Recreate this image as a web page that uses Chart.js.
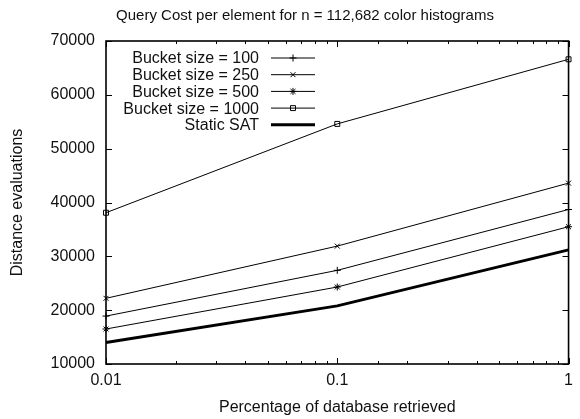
<!DOCTYPE html>
<html>
<head>
<meta charset="utf-8">
<script src="https://cdn.jsdelivr.net/npm/chart.js@4/dist/chart.umd.min.js"></script>
<style>
  html, body { margin: 0; padding: 0; background: #fff; }
  #wrap { width: 580px; height: 419px; }
</style>
</head>
<body>
<div id="wrap"><canvas id="myChart" width="580" height="419"></canvas></div>
<script>
// values
var percentRetrieved = [0.01, 0.1, 1];
var bucket100 = [18900, 27400, 38700];
var bucket250 = [22200, 31900, 43600];
var bucket500 = [16500, 24300, 35500];
var bucket1000 = [38100, 54600, 66600];
var staticSat = [14000, 20800, 31200];

var yTicks = [10000, 20000, 30000, 40000, 50000, 60000, 70000];
var xTickLabels = [0.01, 0.1, 1];

var titleText = 'Query Cost per element for n = 112,682 color histograms';

var element = document.getElementById('myChart').getContext('2d');

Chart.defaults.font.family = '"Liberation Sans", Arial, Helvetica, sans-serif';
Chart.defaults.font.size = 16;
Chart.defaults.color = '#111';

function points(ys) {
    return percentRetrieved.map(function (x, i) { return { x: x, y: ys[i] }; });
}

function isMajor(v) {
    return xTickLabels.some(function (t) { return Math.abs(t - v) < 1e-9; });
}

function series(label, ys, style, width) {
    return {
        label: label,
        data: points(ys),
        borderColor: '#000',
        backgroundColor: 'rgba(0,0,0,0)',
        borderWidth: width,
        pointStyle: style,
        pointRadius: style ? 3.5 : 0,
        pointHoverRadius: style ? 3.5 : 0,
        pointBorderWidth: 1,
        pointBorderColor: '#000',
        pointBackgroundColor: 'rgba(0,0,0,0)',
        tension: 0,
        clip: false
    };
}

// gnuplot style box with inward ticks on all four sides
var framePlugin = {
    id: 'frame',
    beforeDatasetsDraw: function (chart) {
        var ctx = chart.ctx, a = chart.chartArea;
        var xs = chart.scales.x, ys = chart.scales.y;
        ctx.save();
        ctx.strokeStyle = '#000';
        ctx.lineWidth = 1;
        ctx.beginPath();
        xs.ticks.forEach(function (t) {
            var px = Math.round(xs.getPixelForValue(t.value)) + 0.5;
            var len = isMajor(t.value) ? 6 : 3;
            ctx.moveTo(px, a.bottom); ctx.lineTo(px, a.bottom - len);
            ctx.moveTo(px, a.top); ctx.lineTo(px, a.top + len);
        });
        ys.ticks.forEach(function (t) {
            var py = Math.round(ys.getPixelForValue(t.value)) + 0.5;
            ctx.moveTo(a.left, py); ctx.lineTo(a.left + 6, py);
            ctx.moveTo(a.right, py); ctx.lineTo(a.right - 6, py);
        });
        ctx.stroke();
        ctx.lineWidth = 1.6;
        ctx.strokeRect(a.left, a.top, a.right - a.left, a.bottom - a.top);
        ctx.restore();
    }
};

// title (centred like gnuplot, over the whole page) and key inside the plot
var keyPlugin = {
    id: 'insideKey',
    afterDatasetsDraw: function (chart) {
        var ctx = chart.ctx, a = chart.chartArea;
        var textRight = a.left + 153, lineStart = a.left + 165, lineEnd = a.left + 209;
        ctx.save();
        ctx.fillStyle = '#111';
        ctx.font = '15px ' + Chart.defaults.font.family;
        ctx.textAlign = 'center';
        ctx.textBaseline = 'middle';
        ctx.fillText(titleText, 305, 16);

        ctx.font = '16px ' + Chart.defaults.font.family;
        ctx.textAlign = 'right';
        chart.data.datasets.forEach(function (ds, i) {
            var y = a.top + 17 + i * 16.7;
            ctx.fillStyle = '#111';
            ctx.fillText(ds.label, textRight, y + 1);
            ctx.strokeStyle = '#000';
            ctx.lineWidth = ds.borderWidth;
            ctx.beginPath();
            ctx.moveTo(lineStart, y);
            ctx.lineTo(lineEnd, y);
            ctx.stroke();
            if (ds.pointRadius > 0) {
                ctx.lineWidth = 1;
                ctx.fillStyle = 'rgba(0,0,0,0)';
                Chart.helpers.drawPoint(ctx, {
                    pointStyle: ds.pointStyle, rotation: 0,
                    radius: ds.pointRadius, borderWidth: 1
                }, (lineStart + lineEnd) / 2, y);
            }
        });
        ctx.restore();
    }
};

var chartData = {
    datasets: [
        series('Bucket size = 100', bucket100, 'cross', 1),
        series('Bucket size = 250', bucket250, 'crossRot', 1),
        series('Bucket size = 500', bucket500, 'star', 1),
        series('Bucket size = 1000', bucket1000, 'rect', 1),
        series('Static SAT', staticSat, false, 3)
    ]
};

var chartOptions = {
    responsive: false,
    animation: false,
    devicePixelRatio: 1,
    layout: { padding: { left: 0, right: 4, top: 41, bottom: 0 } },
    plugins: {
        legend: { display: false },
        tooltip: { enabled: false },
        title: { display: false }
    },
    scales: {
        x: {
            type: 'logarithmic',
            min: 0.01,
            max: 1,
            border: { display: false },
            grid: { display: false, drawTicks: false },
            ticks: {
                autoSkip: false,
                maxRotation: 0,
                padding: 7,
                callback: function (v) { return isMajor(v) ? String(v) : ''; }
            },
            title: {
                display: true,
                text: 'Percentage of database retrieved',
                padding: { top: 4, bottom: 2 }
            },
            afterFit: function (scale) { scale.height = 55; }
        },
        y: {
            type: 'linear',
            min: 10000,
            max: 70000,
            border: { display: false },
            grid: { display: false, drawTicks: false },
            afterBuildTicks: function (scale) {
                scale.ticks = yTicks.map(function (v) { return { value: v }; });
            },
            ticks: {
                padding: 11,
                callback: function (v) { return String(v); }
            },
            title: {
                display: true,
                text: 'Distance evaluations',
                padding: { top: 8, bottom: 0 }
            },
            afterFit: function (scale) { scale.width = 106; }
        }
    }
};

var chart = new Chart(element, {
    type: 'line',
    data: chartData,
    options: chartOptions,
    plugins: [framePlugin, keyPlugin]
});
</script>
</body>
</html>
